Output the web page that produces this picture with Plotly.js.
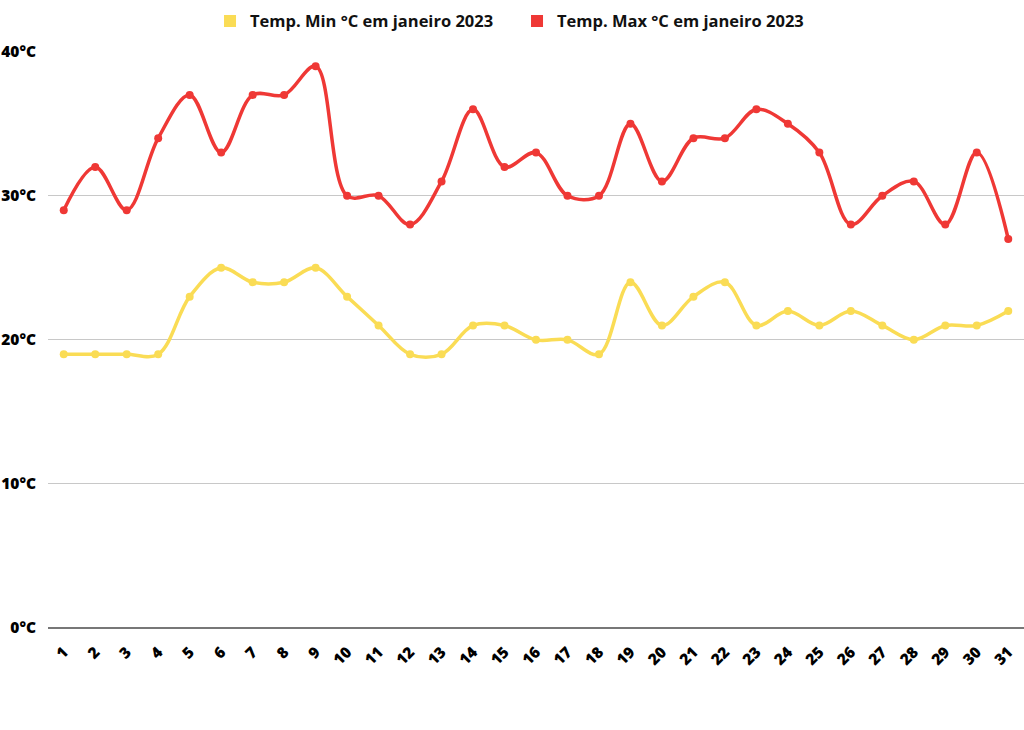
<!DOCTYPE html>
<html>
<head>
<meta charset="utf-8">
<script src="https://cdn.plot.ly/plotly-3.0.1.min.js"></script>
<style>
  html, body { margin: 0; padding: 0; background: #fff; }
  #chart { width: 1024px; height: 730px; }
</style>
</head>
<body>
<div id="chart"></div>
<script>
// dias de janeiro 2023
const days = [1,2,3,4,5,6,7,8,9,10,11,12,13,14,15,16,17,18,19,20,21,22,23,24,25,26,27,28,29,30,31];
const tempMin = [19,19,19,19,23,25,24,24,25,23,21,19,19,21,21,20,20,19,24,21,23,24,21,22,21,22,21,20,21,21,22];
const tempMax = [29,32,29,34,37,33,37,37,39,30,30,28,31,36,32,33,30,30,35,31,34,34,36,35,33,28,30,31,28,33,27];
const yTicks = [0,10,20,30,40];
const yTickText = ["0°C","10°C","20°C","30°C","40°C"];

const nameMin = "Temp. Min °C em janeiro 2023";
const nameMax = "Temp. Max °C em janeiro 2023";
const yellow = "#FADC55";
const red = "#EF3835";

const lineTrace = (y, color) => ({
  x: days,
  y: y,
  type: "scatter",
  mode: "lines+markers",
  line: { color: color, width: 3.5, shape: "spline", smoothing: 1 },
  marker: { color: color, size: 8 },
  showlegend: false,
  hoverinfo: "x+y"
});

// legend-only entries so the legend shows squares
const legendTrace = (name, color) => ({
  x: [null],
  y: [null],
  type: "bar",
  name: name,
  marker: { color: color },
  hoverinfo: "skip"
});

const data = [
  lineTrace(tempMin, yellow),
  lineTrace(tempMax, red),
  legendTrace(nameMin, yellow),
  legendTrace(nameMax, red)
];

const layout = {
  width: 1024,
  height: 730,
  margin: { l: 48, r: 0, t: 51, b: 102 },
  paper_bgcolor: "#fff",
  plot_bgcolor: "#fff",
  font: { family: "Open Sans", weight: 800, color: "#000" },
  showlegend: true,
  legend: {
    orientation: "h",
    x: 0.166,
    xanchor: "left",
    y: 0.995,
    yanchor: "top",
    yref: "container",
    font: { family: "Open Sans", size: 16.5, weight: 700, color: "#111" },
    itemwidth: 30,
    entrywidth: 262,
    traceorder: "normal"
  },
  xaxis: {
    type: "linear",
    range: [0.5, 31.5],
    tickmode: "array",
    tickvals: days,
    ticktext: days.map(String),
    tickangle: -45,
    tickfont: { family: "Open Sans", size: 15.5, weight: 800 },
    showgrid: false,
    zeroline: false,
    showline: false,
    ticks: "",
    ticklabelstandoff: 11
  },
  yaxis: {
    range: [0, 40.05],
    tickmode: "array",
    tickvals: yTicks,
    ticktext: yTickText,
    tickfont: { family: "Open Sans", size: 15.5, weight: 800 },
    showgrid: true,
    gridcolor: "#c8c8c8",
    gridwidth: 1,
    zeroline: true,
    zerolinecolor: "#777",
    zerolinewidth: 1.5,
    ticks: "",
    ticklabelstandoff: 11
  }
};

Plotly.newPlot("chart", data, layout, { displayModeBar: false, staticPlot: true });
</script>
</body>
</html>
